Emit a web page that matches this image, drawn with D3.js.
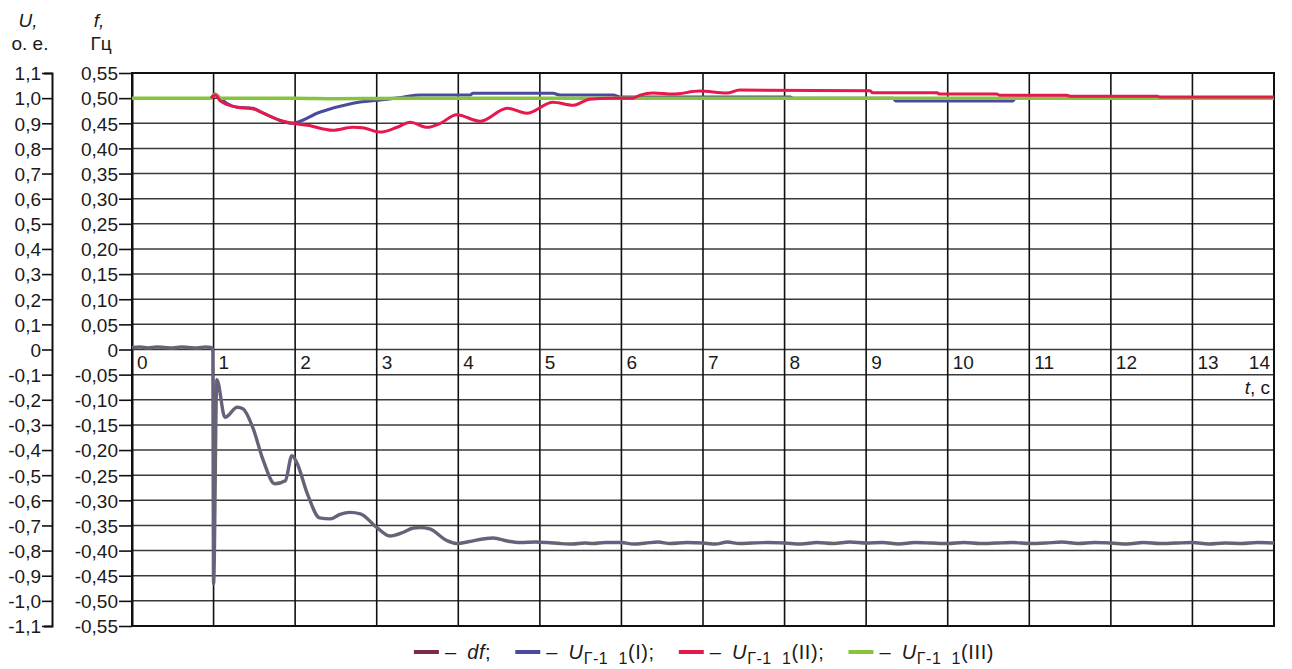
<!DOCTYPE html>
<html><head><meta charset="utf-8">
<script src="https://cdn.jsdelivr.net/npm/d3@7"></script>
<style>
body{margin:0;background:#fff}
svg{display:block}
text{font-family:"Liberation Sans",Arial,sans-serif;fill:#1a1a1a}
</style>
</head><body>
<svg id="c" width="1292" height="669"></svg>
<script>
// ---------- data ----------
const timeTicks = [0,1,2,3,4,5,6,7,8,9,10,11,12,13,14];
const timeTickLabels = ["0","1","2","3","4","5","6","7","8","9","10","11","12","13","14"];
const uTicks = [1.1,1.0,0.9,0.8,0.7,0.6,0.5,0.4,0.3,0.2,0.1,0,-0.1,-0.2,-0.3,-0.4,-0.5,-0.6,-0.7,-0.8,-0.9,-1.0,-1.1];
const uTickLabels = ["1,1","1,0","0,9","0,8","0,7","0,6","0,5","0,4","0,3","0,2","0,1","0","-0,1","-0,2","-0,3","-0,4","-0,5","-0,6","-0,7","-0,8","-0,9","-1,0","-1,1"];
const fTicks = [0.55,0.50,0.45,0.40,0.35,0.30,0.25,0.20,0.15,0.10,0.05,0,-0.05,-0.10,-0.15,-0.20,-0.25,-0.30,-0.35,-0.40,-0.45,-0.50,-0.55];
const fTickLabels = ["0,55","0,50","0,45","0,40","0,35","0,30","0,25","0,20","0,15","0,10","0,05","0","-0,05","-0,10","-0,15","-0,20","-0,25","-0,30","-0,35","-0,40","-0,45","-0,50","-0,55"];

// df, Hz
const dfT = [0,0.1,0.2,0.3,0.4,0.5,0.6,0.7,0.8,0.9,0.97,0.99,1.0,1.04,1.14,1.29,1.36,1.48,1.61,1.75,1.88,1.96,2.02,2.15,2.30,2.43,2.55,2.67,2.80,3.00,3.16,3.32,3.45,3.53,3.65,3.86,3.98,4.14,4.30,4.43,4.60,4.76,4.95,5.09,5.25,5.4,5.55,5.65,5.8,6.0,6.15,6.3,6.45,6.6,6.8,7.0,7.15,7.3,7.45,7.6,7.8,8.0,8.2,8.4,8.6,8.8,9.0,9.2,9.4,9.6,9.8,10.0,10.2,10.4,10.6,10.8,11.0,11.2,11.4,11.6,11.8,12.0,12.2,12.4,12.6,12.8,13.0,13.2,13.4,13.6,13.8,14.0];
const dfV = [0.004,0.005,0.003,0.005,0.004,0.003,0.005,0.004,0.003,0.005,0.004,0.0,-0.466,-0.06,-0.135,-0.115,-0.118,-0.155,-0.221,-0.267,-0.261,-0.211,-0.225,-0.287,-0.335,-0.337,-0.328,-0.324,-0.327,-0.354,-0.371,-0.364,-0.355,-0.354,-0.357,-0.380,-0.386,-0.382,-0.377,-0.375,-0.381,-0.384,-0.383,-0.384,-0.386,-0.387,-0.385,-0.386,-0.384,-0.384,-0.387,-0.385,-0.383,-0.386,-0.384,-0.385,-0.387,-0.383,-0.386,-0.385,-0.384,-0.385,-0.387,-0.384,-0.386,-0.383,-0.385,-0.384,-0.387,-0.384,-0.385,-0.386,-0.384,-0.386,-0.385,-0.384,-0.386,-0.385,-0.383,-0.386,-0.384,-0.385,-0.387,-0.384,-0.386,-0.385,-0.384,-0.387,-0.385,-0.386,-0.384,-0.385];

// U Г-1_1 (I), p.u.
const u1T = [0.97,1.02,1.08,1.16,1.29,1.48,1.61,1.81,1.96,2.30,2.71,3.13,3.32,3.53,4.14,4.18,5.16,5.25,5.90,5.98,8.07,8.10,9.33,9.36,10.80,10.83,14.0];
const u1V = [1.0,1.016,1.0,0.98,0.964,0.96,0.94,0.912,0.90,0.944,0.98,0.996,1.004,1.012,1.012,1.019,1.019,1.012,1.012,1.005,1.005,1.0,1.0,0.989,0.989,1.0,1.0];

// U Г-1_1 (II)
const u2T = [0.97,1.02,1.08,1.16,1.29,1.48,1.61,1.81,1.97,2.15,2.46,2.71,2.83,3.04,3.25,3.41,3.62,3.78,3.98,4.27,4.60,4.84,5.16,5.41,5.61,5.86,6.14,6.23,6.39,6.63,6.96,7.29,7.45,9.05,9.08,9.87,9.90,10.60,10.64,11.46,11.50,12.57,12.60,14.0];
const u2V = [1.0,1.012,0.99,0.975,0.964,0.958,0.94,0.912,0.90,0.892,0.872,0.884,0.882,0.865,0.884,0.904,0.884,0.90,0.934,0.908,0.96,0.94,0.984,0.972,0.996,1.0,1.0,1.012,1.02,1.016,1.028,1.02,1.032,1.029,1.021,1.021,1.016,1.016,1.011,1.011,1.008,1.008,1.005,1.005];

// U Г-1_1 (III)
const u3T = [0,0.97,1.02,1.08,2.0,2.5,3.0,3.5,4.0,5.0,6.0,8.0,10.0,12.0,14.0];
const u3V = [1.0,1.0,1.016,1.0,1.0,0.998,0.999,1.0,1.0,1.0,1.0,1.0,1.0,1.0,1.0];

// ---------- drawing ----------
const svg = d3.select("#c");
const L = 132, R = 1274, T = 73, B = 626;
const x = d3.scaleLinear().domain([0,14]).range([L,R]);
const yU = d3.scaleLinear().domain([-1.1,1.1]).range([B,T]);
const yF = d3.scaleLinear().domain([-0.55,0.55]).range([B,T]);

// grid
svg.append("g").selectAll("line").data(uTicks).join("line")
  .attr("x1",L).attr("x2",R).attr("y1",d=>yU(d)).attr("y2",d=>yU(d))
  .attr("stroke","#3a3a3a").attr("stroke-width",1.5);
svg.append("g").selectAll("line").data(timeTicks).join("line")
  .attr("x1",d=>x(d)).attr("x2",d=>x(d)).attr("y1",T).attr("y2",B)
  .attr("stroke","#111").attr("stroke-width",1.6);
// frame
svg.append("rect").attr("x",L).attr("y",T).attr("width",R-L).attr("height",B-T)
  .attr("fill","none").attr("stroke","#111").attr("stroke-width",2);

// axes
const fs = "19px";
const gU = svg.append("g").attr("transform","translate(52,0)")
  .call(d3.axisLeft(yU).tickValues(uTicks).tickFormat((d,i)=>uTickLabels[i]).tickSize(10).tickSizeOuter(8).tickPadding(1));
const gF = svg.append("g").attr("transform",`translate(${L},0)`)
  .call(d3.axisLeft(yF).tickValues(fTicks).tickFormat((d,i)=>fTickLabels[i]).tickSize(13).tickSizeOuter(0).tickPadding(1));
[gU,gF].forEach(g=>{
  g.selectAll("path.domain").attr("stroke","#111").attr("stroke-width",2);
  g.selectAll(".tick line").attr("stroke","#111").attr("stroke-width",1.6);
  g.selectAll(".tick text").attr("font-family","Liberation Sans, Arial, sans-serif").attr("font-size",fs).attr("fill","#1a1a1a").attr("dy","0.36em");
  g.attr("font-family",null).attr("font-size",null);
});

// x tick labels inside plot
svg.append("g").selectAll("text").data(timeTicks).join("text")
  .attr("x",(d,i)=> i===timeTicks.length-1 ? x(d)-4 : x(d)+5)
  .attr("y",yU(0)+19)
  .attr("text-anchor",(d,i)=> i===timeTicks.length-1 ? "end" : "start")
  .attr("font-size",fs)
  .text((d,i)=>timeTickLabels[i]);
const tl = svg.append("text").attr("x",R-4).attr("y",yU(0)+44).attr("text-anchor","end").attr("font-size",fs);
tl.append("tspan").attr("font-style","italic").text("t");
tl.append("tspan").text(", с");

// axis titles
svg.append("text").attr("x",28).attr("y",27).attr("text-anchor","middle").attr("font-size",fs).attr("font-style","italic").text("U,");
svg.append("text").attr("x",30).attr("y",50).attr("text-anchor","middle").attr("font-size",fs).text("о. е.");
svg.append("text").attr("x",99).attr("y",27).attr("text-anchor","middle").attr("font-size",fs).attr("font-style","italic").text("f,");
svg.append("text").attr("x",101).attr("y",50).attr("text-anchor","middle").attr("font-size",fs).text("Гц");

// series
const clr = {df:"#68656f", u1:"#4b4a9e", u2:"#e5194b", u3:"#86c440"};
const lineU = d3.line().x(d=>x(d[0])).y(d=>yU(d[1])).curve(d3.curveMonotoneX);
const lineF = d3.line().x(d=>x(d[0])).y(d=>yF(d[1])).curve(d3.curveMonotoneX);
svg.append("path").datum(dfT.map((t,i)=>[t,dfV[i]])).attr("d",lineF)
  .attr("fill","none").attr("stroke",clr.df).attr("stroke-width",3.4).attr("stroke-linejoin","round");
svg.append("path").datum(dfT.map((t,i)=>[t,dfV[i]])).attr("d",lineF)
  .attr("fill","none").attr("stroke","#6a4fb0").attr("stroke-width",0.9).attr("stroke-opacity",0.55);
svg.append("path").datum(u1T.map((t,i)=>[t,u1V[i]])).attr("d",lineU)
  .attr("fill","none").attr("stroke",clr.u1).attr("stroke-width",3);
svg.append("path").datum(u3T.map((t,i)=>[t,u3V[i]])).attr("d",lineU)
  .attr("fill","none").attr("stroke",clr.u3).attr("stroke-width",3.5);
svg.append("path").datum(u2T.map((t,i)=>[t,u2V[i]])).attr("d",lineU)
  .attr("fill","none").attr("stroke",clr.u2).attr("stroke-width",3).attr("stroke-linejoin","round");

// legend
const legendItems = [
  {c:"#7b2b4b", kind:"df"},
  {c:clr.u1, kind:"u", idx:"(I);"},
  {c:clr.u2, kind:"u", idx:"(II);"},
  {c:clr.u3, kind:"u", idx:"(III)"}
];
const lg = svg.append("g");
let cx = 0;
const ly = 659;
legendItems.forEach((it,i)=>{
  lg.append("line").attr("x1",cx).attr("x2",cx+25).attr("y1",ly-7).attr("y2",ly-7)
    .attr("stroke",it.c).attr("stroke-width",4);
  cx += 31;
  const t = lg.append("text").attr("x",cx).attr("y",ly).attr("font-size","20px").attr("letter-spacing","0.6px");
  if(it.kind==="df"){
    t.append("tspan").text("–\u2002");
    t.append("tspan").attr("font-style","italic").text("df");
    t.append("tspan").text(";");
  } else {
    t.append("tspan").text("–\u2002");
    t.append("tspan").attr("font-style","italic").text("U");
    t.append("tspan").attr("font-size","16px").attr("dy",5).text("Г-1\u00a0\u00a01");
    t.append("tspan").attr("dy",-5).text(it.idx);
  }
  cx += t.node().getComputedTextLength() + 24;
});
const lw = cx - 24;
lg.attr("transform",`translate(${704 - lw/2},0)`);
</script>
</body></html>
